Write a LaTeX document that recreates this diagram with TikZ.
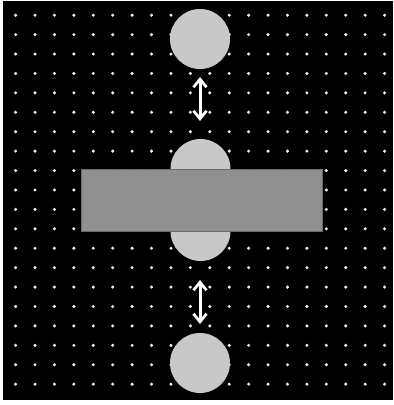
\documentclass[tikz,border=0pt]{standalone}
\usetikzlibrary{arrows.meta}
\begin{document}
\begin{tikzpicture}[x=1pt,y=-1pt,
  disc/.style={circle,fill=circgray,draw=none,minimum size=60pt,inner sep=0pt},
  stadium/.style={rectangle,fill=circgray,draw=none,minimum width=60pt,minimum height=122pt,rounded corners=30pt,inner sep=0pt},
  bar/.style={rectangle,fill=bargray,draw=barline,line width=1pt,minimum width=241pt,minimum height=62pt,inner sep=0pt},
  link/.style={white,line width=3pt,{Straight Barb[length=8pt,width=13pt,line width=2.8pt]}-{Straight Barb[length=8pt,width=13pt,line width=2.8pt]}}
]
\definecolor{circgray}{RGB}{200,200,200}
\definecolor{bargray}{RGB}{144,144,144}
\definecolor{barline}{RGB}{105,105,105}
\definecolor{dotc}{RGB}{240,240,240}
\useasboundingbox (0,0) rectangle (394,405);
\fill[white] (0,0) rectangle (394,405);
\fill[black] (3,1) rectangle (393,400);
\foreach \i in {0,...,19}{
  \foreach \j in {0,...,19}{
    \fill[dotc] ({15.6+19.42*\i},{15.2+19.42*\j}) circle (1.7);
  }
}
\node[disc] (c1) at (200,39) {};
\node[stadium] (mid) at (200.5,200) {};
\node[bar] (b) at (201.5,200) {};
\node[disc] (c3) at (200,363) {};
\coordinate (a1s) at (200,77);
\coordinate (a1e) at (200,121);
\coordinate (a2s) at (200,280);
\coordinate (a2e) at (200,324);
\draw[link] (a1s) -- (a1e);
\draw[link] (a2s) -- (a2e);
\end{tikzpicture}
\end{document}
